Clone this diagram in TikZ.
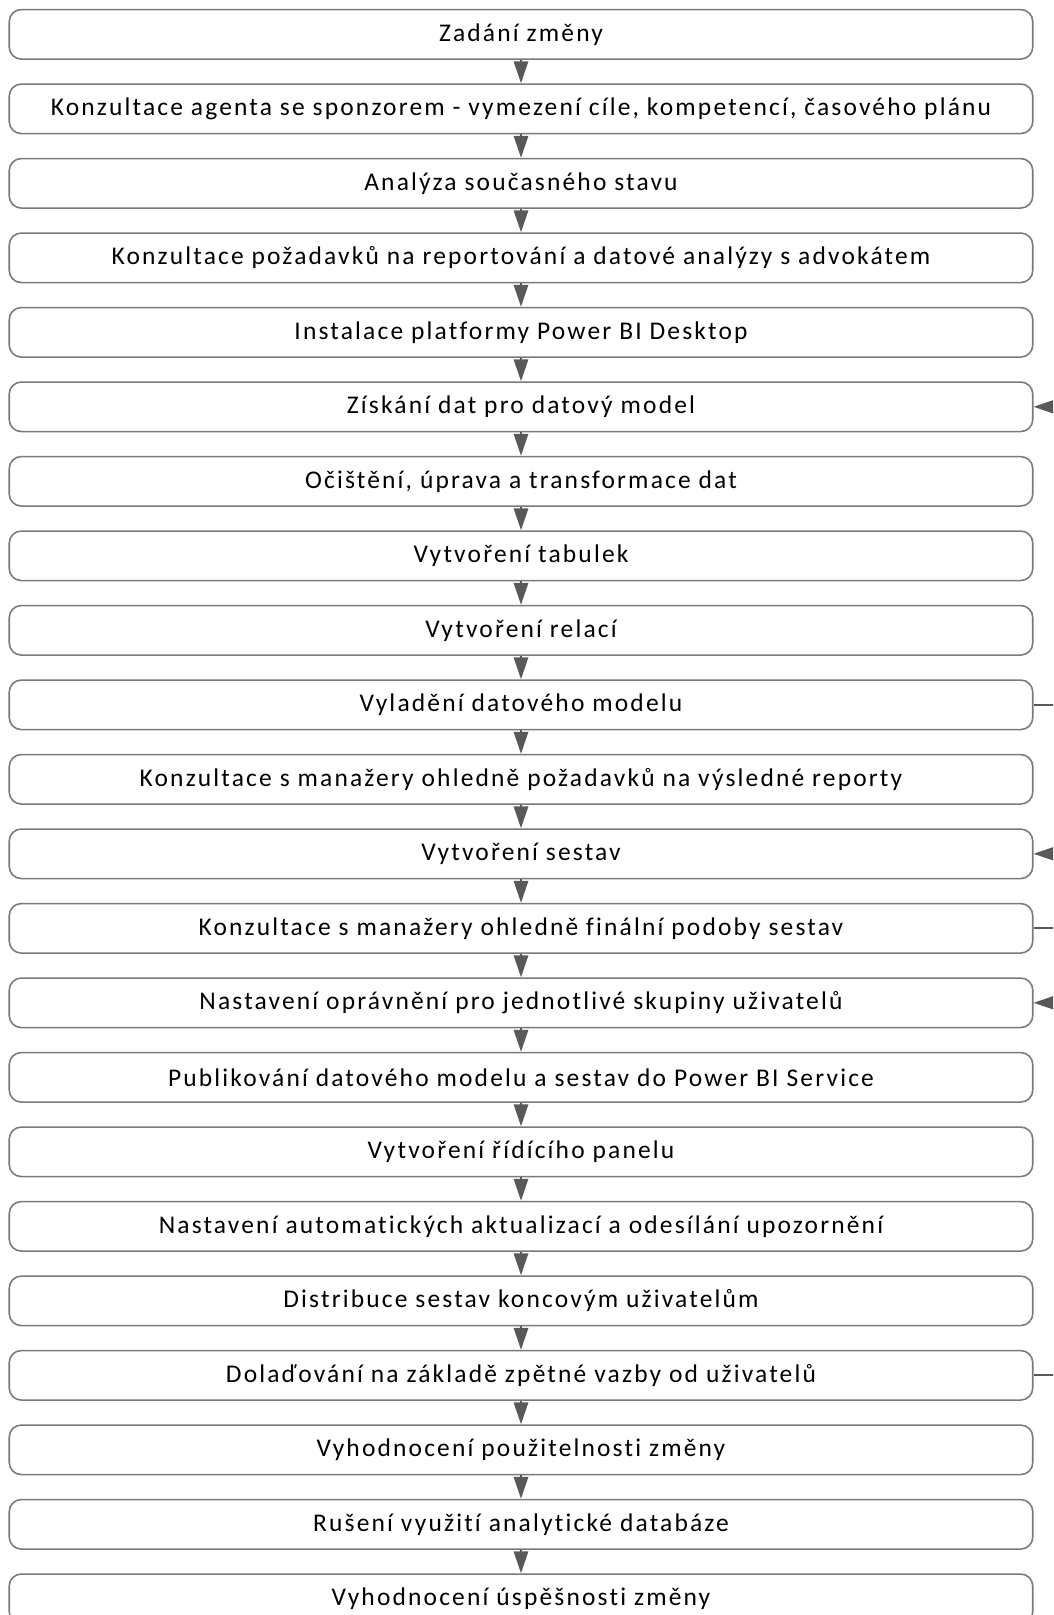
\documentclass[tikz,border=0pt]{standalone}
\usepackage{fontspec}
\setmainfont{Carlito}[LetterSpace=8.5, Ligatures={NoCommon}]
\usetikzlibrary{arrows.meta}

\definecolor{ramecek}{HTML}{7A7A7A}
\definecolor{sipka}{HTML}{595959}

\tikzset{
	krok/.style={draw=ramecek, line width=0.9pt, rounded corners=0.24cm,
		minimum width=20.47cm, minimum height=0.99cm, inner sep=0pt,
		font=\fontsize{14.5}{17}\selectfont},
	tok/.style={draw=sipka, line width=1pt,
		-{Triangle[length=0.44cm, width=0.29cm]}, sipka}
}

\begin{document}
\begin{tikzpicture}[>=latex]
	\useasboundingbox (0,0) rectangle (21.06,-32.3);
	\clip (0,0) rectangle (21.06,-32.3);
	\node [krok] (s1) at (10.42,-0.686) {Zadání změny};
	\node [krok] (s2) at (10.42,-2.176) {Konzultace agenta se sponzorem - vymezení cíle, kompetencí, časového plánu};
	\node [krok] (s3) at (10.42,-3.666) {Analýza současného stavu};
	\node [krok] (s4) at (10.42,-5.156) {Konzultace požadavků na reportování a datové analýzy s advokátem};
	\node [krok] (s5) at (10.42,-6.646) {Instalace platformy Power BI Desktop};
	\node [krok] (s6) at (10.42,-8.136) {Získání dat pro datový model};
	\node [krok] (s7) at (10.42,-9.626) {Očištění, úprava a transformace dat};
	\node [krok] (s8) at (10.42,-11.116) {Vytvoření tabulek};
	\node [krok] (s9) at (10.42,-12.606) {Vytvoření relací};
	\node [krok] (s10) at (10.42,-14.096) {Vyladění datového modelu};
	\node [krok] (s11) at (10.42,-15.586) {Konzultace s manažery ohledně požadavků na výsledné reporty};
	\node [krok] (s12) at (10.42,-17.076) {Vytvoření sestav};
	\node [krok] (s13) at (10.42,-18.566) {Konzultace s manažery ohledně finální podoby sestav};
	\node [krok] (s14) at (10.42,-20.056) {Nastavení oprávnění pro jednotlivé skupiny uživatelů};
	\node [krok] (s15) at (10.42,-21.546) {Publikování datového modelu a sestav do Power BI Service};
	\node [krok] (s16) at (10.42,-23.036) {Vytvoření řídícího panelu};
	\node [krok] (s17) at (10.42,-24.526) {Nastavení automatických aktualizací a odesílání upozornění};
	\node [krok] (s18) at (10.42,-26.016) {Distribuce sestav koncovým uživatelům};
	\node [krok] (s19) at (10.42,-27.506) {Dolaďování na základě zpětné vazby od uživatelů};
	\node [krok] (s20) at (10.42,-28.996) {Vyhodnocení použitelnosti změny};
	\node [krok] (s21) at (10.42,-30.486) {Rušení využití analytické databáze};
	\node [krok] (s22) at (10.42,-31.976) {Vyhodnocení úspěšnosti změny};
	\path [tok] (s1) edge (s2);
	\path [tok] (s2) edge (s3);
	\path [tok] (s3) edge (s4);
	\path [tok] (s4) edge (s5);
	\path [tok] (s5) edge (s6);
	\path [tok] (s6) edge (s7);
	\path [tok] (s7) edge (s8);
	\path [tok] (s8) edge (s9);
	\path [tok] (s9) edge (s10);
	\path [tok] (s10) edge (s11);
	\path [tok] (s11) edge (s12);
	\path [tok] (s12) edge (s13);
	\path [tok] (s13) edge (s14);
	\path [tok] (s14) edge (s15);
	\path [tok] (s15) edge (s16);
	\path [tok] (s16) edge (s17);
	\path [tok] (s17) edge (s18);
	\path [tok] (s18) edge (s19);
	\path [tok] (s19) edge (s20);
	\path [tok] (s20) edge (s21);
	\path [tok] (s21) edge (s22);
	% zpetne vazby (vedou mimo vyrez)
	\draw [tok] (s10.east) -- ++(0.6,0) |- (s6.east);
	\draw [tok] (s13.east) -- ++(0.6,0) |- (s12.east);
	\draw [tok] (s19.east) -- ++(0.9,0) |- (s14.east);
\end{tikzpicture}
\end{document}
